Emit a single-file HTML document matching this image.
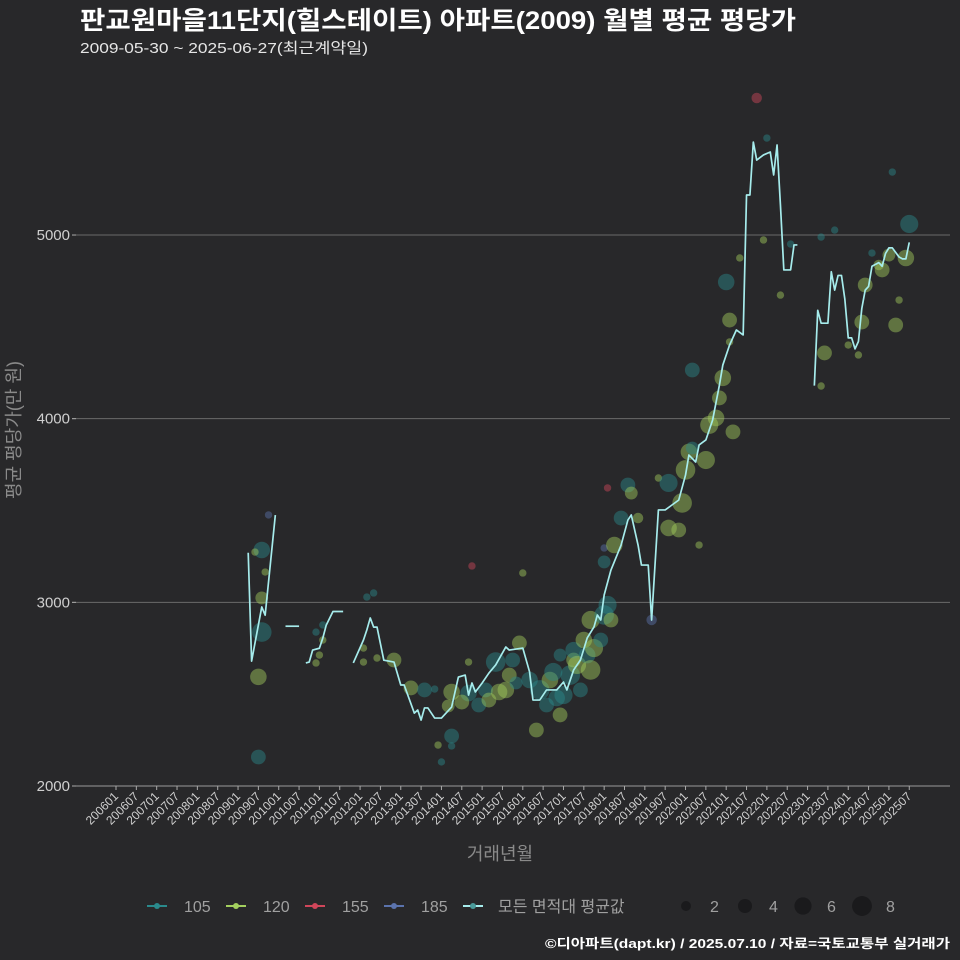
<!DOCTYPE html>
<html><head><meta charset="utf-8">
<style>
html,body{margin:0;padding:0;background:#28282a;}
svg{display:block;font-family:"Liberation Sans","Noto Sans CJK KR",sans-serif;}
</style></head>
<body>
<svg id="chart" width="960" height="960" viewBox="0 0 960 960">
<rect width="960" height="960" fill="#28282a"/>
<text x="80" y="29" font-size="25" font-weight="bold" fill="#ffffff" textLength="716" lengthAdjust="spacingAndGlyphs">판교원마을11단지(힐스테이트) 아파트(2009) 월별 평균 평당가</text>
<text x="80" y="53" font-size="15" fill="#e6e6e6" textLength="288" lengthAdjust="spacingAndGlyphs">2009-05-30 ~ 2025-06-27(최근계약일)</text>
<g id="grid"></g>
<g id="yaxis"></g>
<g id="xaxis"></g>
<g id="bubbles"></g>
<g id="line"></g>
<g transform="translate(20,430) rotate(-90)">
<text x="0" y="0" font-size="18" fill="#8a8a8a" text-anchor="middle">평균 평당가(만 원)</text>
</g>
<text x="500" y="860" font-size="18" fill="#8a8a8a" text-anchor="middle">거래년월</text>
<g id="legend"></g>
<text x="545" y="948" font-size="13" font-weight="bold" fill="#ffffff" textLength="405" lengthAdjust="spacingAndGlyphs">©디아파트(dapt.kr) / 2025.07.10 / 자료=국토교통부 실거래가</text>
</svg>
<script>
// ---- data (month index from 2006-01, value in 만원/평) ----
const yTicks = [2000, 3000, 4000, 5000];
const tickLabels = ["200601","200607","200701","200707","200801","200807","200901","200907","201001","201007","201101","201107","201201","201207","201301","201307","201401","201407","201501","201507","201601","201607","201701","201707","201801","201807","201901","201907","202001","202007","202101","202107","202201","202207","202301","202307","202401","202407","202501","202507"];
const seriesNames = ["105","120","155","185"];
const seriesColors = ["#2a8a8c","#a3cf5e","#d0465a","#5b73ad"];
const lineMonths = [39,40,43,44,47,null,50,52,54,null,56,57,58,60,61,62,64,67,null,
70,73,74,75,76,77,79,82,84,85,88,89,90,91,92,94,96,99,101,103,104,105,106,108,110,112,115,116,120,122,123,125,127,130,132,133,135,137,139,141,142,143,144,146,149,151,152,154,155,157,158,160,162,164,166,168,169,171,172,174,176,178,179,181,183,185,186,187,188,189,191,193,194,195,196,197,199,200,201,null,
206,207,208,210,211,212,213,214,215,216,217,218,219,220,221,222,223,225,226,227,228,229,231,232,233,234];
const lineValues = [3270,2680,2975,2930,3475,null,2870,2870,2870,null,2670,2675,2740,2750,2805,2875,2950,2950,null,
2670,2795,2850,2915,2865,2865,2685,2675,2550,2550,2397,2414,2359,2425,2425,2370,2370,2430,2593,2604,2495,2561,2512,2561,2615,2659,2757,2740,2751,2621,2468,2468,2523,2523,2566,2523,2632,2686,2806,2866,2931,2904,3040,3176,3312,3448,3476,3312,3203,3203,2904,3503,3503,3530,3557,3693,3802,3764,3857,3884,3993,4183,4292,4401,4483,4456,5218,5218,5506,5408,5436,5452,5327,5490,5163,4810,4810,4946,4946,null,
4180,4590,4520,4520,4800,4700,4780,4780,4650,4440,4440,4380,4420,4600,4700,4720,4830,4850,4830,4900,4930,4930,4880,4870,4870,4960];
const bubMonths = [42,42,43,43,43,41,44,45,59,61,61,60,59,74,76,73,73,77,82,87,91,94,96,95,99,98,99,99,104,102,105,104,107,109,110,112,113,115,116,117,118,120,119,122,124,125,127,128,129,130,131,131,132,134,135,135,136,137,138,139,140,140,141,143,144,145,146,145,144,144,147,149,151,152,154,158,160,163,163,166,167,168,169,170,172,174,175,177,178,179,180,182,170,181,184,189,192,191,196,199,208,208,209,212,216,219,220,221,223,225,226,228,229,230,231,233,234,181];
const bubValues = [2594,2158,3285,3024,2838,3274,3165,3476,2838,2877,2795,2713,2670,3029,3051,2751,2675,2697,2686,2534,2523,2528,2131,2223,2512,2436,2272,2218,2506,2457,3198,2675,2441,2523,2468,2675,2512,2523,2604,2686,2561,3160,2779,2577,2305,2523,2441,2577,2621,2479,2713,2387,2495,2604,2686,2740,2659,2523,2795,2713,2632,2904,2751,2795,2931,2986,2904,3623,3296,3220,3312,3459,3639,3595,3459,2904,3677,3650,3405,3394,3541,3721,3819,3840,3312,3775,3966,4004,4113,4222,4744,3928,4265,4537,4875,5746,5528,4973,4673,4951,4178,4989,4358,5027,4401,4347,4526,4728,4902,4837,4810,4891,5343,4510,4646,4875,5060,4418];
const bubCounts = [5,4,5,3,7,1,1,1,1,1,1,1,1,1,1,1,1,1,4,4,4,1,1,1,5,3,4,1,5,4,1,1,4,4,4,7,5,5,4,4,3,1,4,5,4,7,4,5,6,5,3,4,6,7,4,5,6,4,5,5,7,6,6,4,7,6,4,1,1,3,5,4,4,3,2,2,1,6,5,4,7,7,5,3,1,6,6,5,4,5,5,4,4,4,1,2,1,1,1,1,1,1,4,1,1,1,4,4,1,2,4,3,1,4,1,5,6,1];
const bubTypes = [1,0,0,1,0,1,1,3,0,0,1,1,1,0,0,1,1,1,1,1,0,0,0,1,1,1,0,0,0,1,2,1,0,0,1,0,1,1,1,0,0,1,1,0,1,0,0,1,0,0,0,1,0,0,1,0,1,0,1,0,1,1,1,0,0,0,1,2,3,0,1,0,0,1,1,3,1,0,1,1,1,1,1,0,1,1,1,1,1,1,0,1,0,1,1,2,0,1,1,0,1,0,1,0,1,1,1,1,0,1,1,1,0,1,1,1,0,1];
const sizeLegend = [2,4,6,8];

// ---- scales ----
const NS="http://www.w3.org/2000/svg";
function xScale(m){return 116+3.39*m;}
function yScale(v){return 786-(v-2000)*0.18366;}
function rScale(n){return 3.7*Math.sqrt(n);}
function mk(tag,attrs,parent){const e=document.createElementNS(NS,tag);for(const k in attrs)e.setAttribute(k,attrs[k]);parent.appendChild(e);return e;}

const grid=document.getElementById('grid'), yax=document.getElementById('yaxis'), xax=document.getElementById('xaxis');
yTicks.forEach(v=>{
  const y=yScale(v);
  if(v>2000){const g=mk('line',{x1:72,x2:950,y1:y,y2:y,stroke:'#6a6a6a','stroke-width':1},grid);
  
  }
  const t=mk('text',{x:70,y:y+5,'font-size':15,fill:'#cfcfcf','text-anchor':'end'},yax);
  t.textContent=v;
  
  
  const tk=mk('line',{x1:72,x2:76,y1:y,y2:y,stroke:'#aaa'},yax);
  
  
});
const axl=mk('line',{x1:76,x2:950,y1:786,y2:786,stroke:'#9a9a9a','stroke-width':1},xax);


tickLabels.forEach((lab,i)=>{
  const x=xScale(i*6);
  const tk=mk('line',{x1:x,x2:x,y1:786,y2:790,stroke:'#aaa'},xax);
  
  
  const t=mk('text',{x:x+3,y:797,'font-size':12,fill:'#cfcfcf','text-anchor':'end',transform:`rotate(-45 ${x+3} 797)`},xax);
  t.textContent=lab;
  
  
});

const bg=document.getElementById('bubbles');
bubMonths.forEach((m,i)=>{
  const c=mk('circle',{cx:xScale(m),cy:yScale(bubValues[i]),r:rScale(bubCounts[i]),fill:seriesColors[bubTypes[i]],'fill-opacity':0.45},bg);
  
  
});

const lg=document.getElementById('line');
let seg=[];
function flush(){ if(seg.length>1){const p=mk('polyline',{points:seg.join(' '),fill:'none',stroke:'#a6ecec','stroke-width':1.7,'stroke-linejoin':'round'},lg);
  
  } seg=[]; }
lineMonths.forEach((m,i)=>{ if(m===null||lineValues[i]===null){flush();return;} seg.push(xScale(m)+','+yScale(lineValues[i])); });
flush();

// legend
const leg=document.getElementById('legend');
const legX=[147,226,305,384];
seriesNames.forEach((n,i)=>{
  const g=mk('g',{},leg);
  
  
  mk('line',{x1:legX[i],x2:legX[i]+20,y1:906,y2:906,stroke:seriesColors[i],'stroke-width':2},g);
  mk('circle',{cx:legX[i]+10,cy:906,r:3,fill:seriesColors[i]},g);
  const t=mk('text',{x:legX[i]+37,y:912,'font-size':16,fill:'#a0a0a0'},g); t.textContent=n;
});
{
  const g=mk('g',{},leg);
  
  
  mk('line',{x1:463,x2:483,y1:906,y2:906,stroke:'#a6ecec','stroke-width':2},g);
  mk('circle',{cx:473,cy:906,r:3,fill:'#4a9a9a'},g);
  const t=mk('text',{x:498,y:912,'font-size':16,fill:'#a0a0a0'},g); t.textContent='모든 면적대 평균값';
}
const sx=[686,745,803,862];
sizeLegend.forEach((n,i)=>{
  const g=mk('g',{},leg);
  
  
  mk('circle',{cx:sx[i],cy:906,r:rScale(n)*0.95,fill:'#1a1a1c'},g);
  const t=mk('text',{x:sx[i]+24,y:912,'font-size':16,fill:'#a0a0a0'},g); t.textContent=n;
});
</script>
</body></html>
